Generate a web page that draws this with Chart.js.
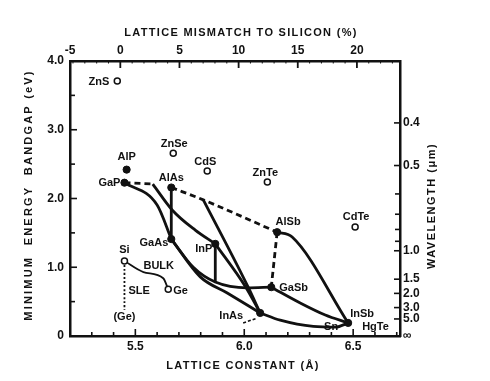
<!DOCTYPE html>
<html>
<head>
<meta charset="utf-8">
<script src="https://cdn.jsdelivr.net/npm/chart.js@4.4.1/dist/chart.umd.min.js"></script>
<style>
  html, body { margin: 0; padding: 0; background: #fff; }
  #chart { display: block; }
</style>
</head>
<body>
<canvas id="chart" width="490" height="381"></canvas>
<script>
// Binary compounds drawn as filled dots (lattice constant in Å, bandgap in eV)
const solidNames   = ['AlP', 'GaP', 'AlAs', 'GaAs', 'InP', 'AlSb', 'GaSb', 'InAs', 'InSb'];
const solidLattice = [5.46, 5.45, 5.665, 5.665, 5.867, 6.151, 6.124, 6.073, 6.477];
const solidGap     = [2.42, 2.23, 2.16, 1.41, 1.34, 1.51, 0.71, 0.335, 0.19];

// II-VI compounds and elements drawn as open circles
const openNames   = ['ZnS', 'ZnSe', 'CdS', 'ZnTe', 'CdTe', 'Si', 'Ge'];
const openLattice = [5.417, 5.674, 5.83, 6.106, 6.509, 5.45, 5.651];
const openGap     = [3.71, 2.66, 2.40, 2.24, 1.585, 1.09, 0.68];

// Alloy curves (solid = direct gap, dashed = indirect)
const gaInPIndirectA = [5.45, 5.58];
const gaInPIndirectE = [2.23, 2.21];
const gaInPA = [5.58, 5.67, 5.775, 5.867];
const gaInPE = [2.21, 1.83, 1.54, 1.34];
const gaAsPA = [5.45, 5.60, 5.665];
const gaAsPE = [2.23, 1.905, 1.41];
const alGaAsA = [5.665, 5.665];
const alGaAsE = [2.16, 1.41];
const alAsSbA = [5.665, 5.812, 6.151];
const alAsSbE = [2.16, 1.98, 1.51];
const alInAsA = [5.812, 6.018, 6.073];
const alInAsE = [1.98, 0.71, 0.335];
const inAsPA = [5.867, 6.005, 6.073];
const inAsPE = [1.34, 0.72, 0.335];
const inPMatchedA = [5.867, 5.867];
const inPMatchedE = [1.34, 0.77];
const gaAsSbA = [5.665, 5.766, 5.867, 6.014, 6.124];
const gaAsSbE = [1.41, 1.0, 0.785, 0.70, 0.71];
const gaInAsA = [5.665, 5.798, 5.922, 6.073];
const gaInAsE = [1.41, 0.86, 0.625, 0.335];
const alGaSbA = [6.151, 6.124];
const alGaSbE = [1.51, 0.71];
const alInSbA = [6.151, 6.22, 6.477];
const alInSbE = [1.51, 1.44, 0.19];
const gaInSbA = [6.124, 6.257, 6.372, 6.477];
const gaInSbE = [0.71, 0.48, 0.305, 0.19];
const inAsSbA = [6.073, 6.165, 6.317, 6.42, 6.477];
const inAsSbE = [0.335, 0.23, 0.14, 0.13, 0.19];
const siGeBulkA = [5.45, 5.537, 5.628, 5.651];
const siGeBulkE = [1.09, 0.93, 0.84, 0.68];
const siGeSleA = [5.45, 5.45];
const siGeSleE = [1.09, 0.38];
const inAsArrowA = [5.995, 6.06];
const inAsArrowE = [0.19, 0.26];

// Axis ticks
const latticeTicks = [5.5, 6.0, 6.5];
const gapTicks = [0, 1, 2, 3, 4];
const mismatchTicks = [-5, 0, 5, 10, 15, 20];
const wavelengthTicks = [0.4, 0.5, 1.0, 1.5, 2.0, 3.0, 5.0, Infinity];
const wavelengthMinor = [0.6, 0.7, 0.8, 0.9];

const siLattice = 5.431;
const latticeMin = 5.2, latticeMax = 6.715;
const ink = '#111';
const fontFamily = "'Liberation Sans', Arial, sans-serif";

function pts(a, e) { return a.map((v, i) => ({ x: v, y: e[i] })); }
function toMismatch(a) { return (a - siLattice) / siLattice * 100; }
function toGap(w) { return isFinite(w) ? 1.2398 / w : 0; }

function curve(a, e, dashed, width) {
    return {
        data: pts(a, e), showLine: true, pointRadius: 0,
        borderColor: ink, borderWidth: width || 2.8,
        borderDash: dashed ? [6, 4] : [],
        cubicInterpolationMode: 'monotone'
    };
}

// label placement (pixels relative to the point)
const labelStyle = {
    ZnS: [-8, 1, 'right'], ZnSe: [1, -9, 'center'], CdS: [-2, -9, 'center'],
    ZnTe: [-2, -9, 'center'], CdTe: [1, -10, 'center'], AlP: [0, -13, 'center'],
    GaP: [-4, 0, 'right'], AlAs: [0, -10, 'center'], GaAs: [-3, 4, 'right'],
    InP: [-3, 5, 'right'], AlSb: [11, -10, 'center'], GaSb: [8, 1, 'left'],
    InAs: [-17, 3, 'right'], InSb: [2, -9, 'left'], Si: [0, -11, 'center'],
    Ge: [5, 2, 'left']
};
const extraLabels = [
    ['BULK', 'Si', 19, 5, 'left'], ['SLE', 'Si', 4, 30, 'left'], ['(Ge)', 'Si', 0, 56, 'center'],
    ['HgTe', 'InSb', 14, 4, 'left'], ['Sn', 'InSb', -10, 4, 'right']
];

const decorPlugin = {
    id: 'decor',
    afterDraw(chart) {
        const ctx = chart.ctx;
        const { x, y, x2, y2 } = chart.scales;
        const area = chart.chartArea;
        ctx.save();
        ctx.strokeStyle = ink;
        ctx.fillStyle = ink;
        ctx.lineWidth = 1.6;
        const tick = (x1, y1, xe, ye) => { ctx.beginPath(); ctx.moveTo(x1, y1); ctx.lineTo(xe, ye); ctx.stroke(); };

        // inward ticks
        for (let i = 1; i <= 15; i++) {
            const v = latticeMin + i * 0.1;
            const px = x.getPixelForValue(v);
            const major = latticeTicks.some(t => Math.abs(t - v) < 1e-6);
            tick(px, area.bottom, px, area.bottom - (major ? 7 : 4));
        }
        for (let v = 0.5; v < 4; v += 0.5) {
            const py = y.getPixelForValue(v);
            tick(area.left, py, area.left + (v % 1 === 0 ? 7 : 5), py);
        }
        ctx.lineWidth = 1;
        for (let v = -4; v <= 23; v++) {
            const px = x2.getPixelForValue(v);
            if (v % 5 === 0) { ctx.lineWidth = 1.8; tick(px, area.top, px, area.top + 7); ctx.lineWidth = 1; }
            else tick(px, area.top, px, area.top + 2.5);
        }
        ctx.lineWidth = 1.6;
        wavelengthTicks.slice(0, -1).forEach(w => {
            const py = y2.getPixelForValue(toGap(w));
            tick(area.right, py, area.right - 6, py);
        });
        wavelengthMinor.forEach(w => {
            const py = y2.getPixelForValue(toGap(w));
            tick(area.right, py, area.right - 5, py);
        });

        // compound labels
        ctx.font = 'bold 11px ' + fontFamily;
        ctx.textBaseline = 'middle';
        const anchor = {};
        solidNames.forEach((n, i) => { anchor[n] = [x.getPixelForValue(solidLattice[i]), y.getPixelForValue(solidGap[i])]; });
        openNames.forEach((n, i) => { anchor[n] = [x.getPixelForValue(openLattice[i]), y.getPixelForValue(openGap[i])]; });
        Object.keys(labelStyle).forEach(n => {
            const [dx, dy, align] = labelStyle[n];
            ctx.textAlign = align;
            ctx.fillText(n, anchor[n][0] + dx, anchor[n][1] + dy);
        });
        extraLabels.forEach(([text, ref, dx, dy, align]) => {
            ctx.textAlign = align;
            ctx.fillText(text, anchor[ref][0] + dx, anchor[ref][1] + dy);
        });

        // axis titles
        ctx.textAlign = 'center';
        ctx.letterSpacing = '1.3px';
        ctx.fillText('LATTICE MISMATCH TO SILICON (%)', 241, 33);
        ctx.fillText('LATTICE CONSTANT (\u00C5)', 243, 366);
        ctx.save();
        ctx.translate(29, 195);
        ctx.rotate(-Math.PI / 2);
        ctx.letterSpacing = '2.2px';
        ctx.fillText('MINIMUM  ENERGY  BANDGAP (eV)', 0, 0);
        ctx.restore();
        ctx.save();
        ctx.translate(432, 206);
        ctx.rotate(-Math.PI / 2);
        ctx.letterSpacing = '1.5px';
        ctx.fillText('WAVELENGTH (\u03BCm)', 0, 0);
        ctx.restore();
        ctx.restore();
    }
};

const tickFont = { family: fontFamily, size: 12, weight: 'bold' };
const border = { display: true, color: ink, width: 2.5 };

new Chart(document.getElementById('chart'), {
    type: 'scatter',
    data: {
        datasets: [
            {
                data: pts(solidLattice, solidGap), pointRadius: 3.6,
                pointBackgroundColor: ink, pointBorderColor: ink, pointBorderWidth: 1
            },
            {
                data: pts(openLattice, openGap), pointRadius: 3,
                pointBackgroundColor: '#fff', pointBorderColor: ink, pointBorderWidth: 1.5
            },
            curve(gaInPIndirectA, gaInPIndirectE, true),
            curve(gaInPA, gaInPE),
            curve(gaAsPA, gaAsPE),
            curve(alGaAsA, alGaAsE),
            curve(alAsSbA, alAsSbE, true),
            curve(alInAsA, alInAsE),
            curve(inAsPA, inAsPE),
            curve(inPMatchedA, inPMatchedE),
            curve(gaAsSbA, gaAsSbE),
            curve(gaInAsA, gaInAsE),
            curve(alGaSbA, alGaSbE, true),
            curve(alInSbA, alInSbE),
            curve(gaInSbA, gaInSbE),
            curve(inAsSbA, inAsSbE),
            curve(siGeBulkA, siGeBulkE, false, 1.8),
            Object.assign(curve(siGeSleA, siGeSleE, false, 1.8), { borderDash: [2, 2] }),
            Object.assign(curve(inAsArrowA, inAsArrowE, false, 1.6), { borderDash: [3, 2] })
        ]
    },
    options: {
        responsive: false,
        animation: false,
        devicePixelRatio: 1,
        layout: { padding: 0 },
        plugins: { legend: { display: false }, tooltip: { enabled: false } },
        scales: {
            x: {
                type: 'linear', position: 'bottom', min: latticeMin, max: latticeMax,
                afterFit: s => { s.height = 45; },
                afterBuildTicks: s => { s.ticks = latticeTicks.map(v => ({ value: v })); },
                ticks: { font: tickFont, color: ink, padding: 3, autoSkip: false, maxRotation: 0,
                         callback: v => v.toFixed(1) },
                grid: { display: false, drawTicks: false }, border
            },
            x2: {
                type: 'linear', position: 'top',
                min: toMismatch(latticeMin), max: toMismatch(latticeMax),
                afterFit: s => { s.height = 61; },
                afterBuildTicks: s => {
                    s.ticks = mismatchTicks.map(v => ({ value: Math.max(v, s.min) }));
                },
                ticks: { font: tickFont, color: ink, padding: 3, autoSkip: false, maxRotation: 0,
                         callback: (v, i) => String(mismatchTicks[i]) },
                grid: { display: false, drawTicks: false }, border
            },
            y: {
                type: 'linear', position: 'left', min: 0, max: 4,
                afterFit: s => { s.width = 70; },
                afterBuildTicks: s => { s.ticks = gapTicks.map(v => ({ value: v })); },
                ticks: { font: tickFont, color: ink, padding: 6, autoSkip: false,
                         callback: v => v === 0 ? '0' : v.toFixed(1) },
                grid: { display: false, drawTicks: false }, border
            },
            y2: {
                type: 'linear', position: 'right', min: 0, max: 4,
                afterFit: s => { s.width = 90; },
                afterBuildTicks: s => { s.ticks = wavelengthTicks.map(w => ({ value: toGap(w) })); },
                ticks: { font: tickFont, color: ink, padding: 3, autoSkip: false,
                         callback: (v, i) => isFinite(wavelengthTicks[i]) ? wavelengthTicks[i].toFixed(1) : '\u221E' },
                grid: { display: false, drawTicks: false }, border
            }
        }
    },
    plugins: [decorPlugin]
});
</script>
</body>
</html>
